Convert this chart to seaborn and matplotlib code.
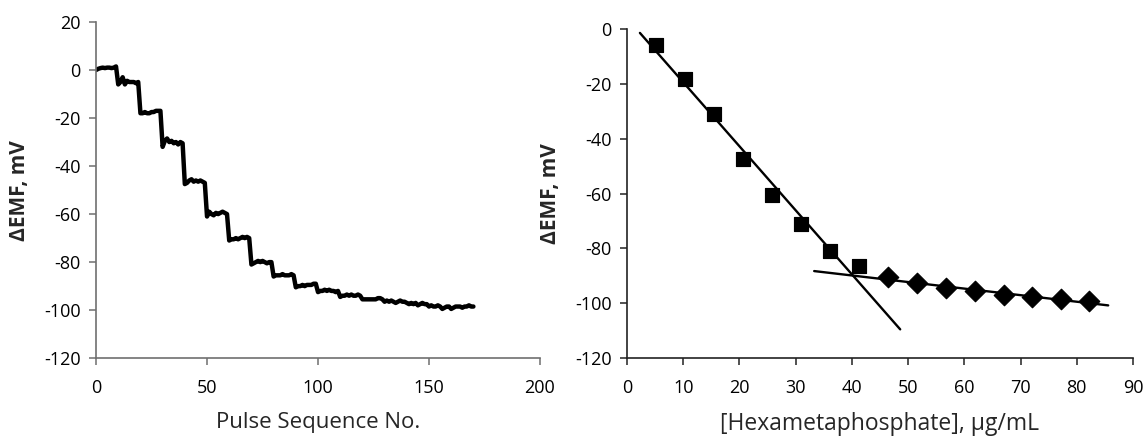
import numpy as np
import pandas as pd
import matplotlib
matplotlib.use("Agg")
import matplotlib.pyplot as plt
import seaborn as sns

# ---- Left panel: EMF response over the pulse sequence (10 readings per pulse) ----
emf_trace = [
    0, 0.5, 0.8, 1, 0.8, 1, 1, 0.8, 1, 1.5,
    -6, -5, -3, -6, -4.5, -5, -5, -5, -5.5, -5,
    -18, -18, -17.5, -18, -18, -17.5, -17.5, -17, -17, -17,
    -32, -29.5, -28.5, -30, -29.5, -30.5, -30, -31, -30, -30.5,
    -47.5, -47, -46, -45.5, -46.5, -46, -46.5, -46, -46.5, -47,
    -61, -59, -60, -60.5, -59.5, -60, -59.5, -59, -59.5, -60,
    -71, -70.5, -70.5, -70, -70.5, -70, -69.5, -70, -69.5, -70,
    -81, -80.5, -80, -79.5, -80, -79.5, -80, -80.5, -80, -80,
    -86, -85.5, -85.5, -85.5, -85, -85.5, -85.5, -85.5, -85, -85.5,
    -90.5, -90, -90, -89.5, -90, -89.5, -89.5, -89.5, -89, -89,
    -92.5, -92, -92, -91.5, -92, -91.5, -92, -92, -92.5, -92,
    -94.5, -94, -94, -93.5, -94, -93.5, -94, -94, -93.5, -94,
    -95.5, -95.5, -95.5, -95.5, -95.5, -95.5, -95.5, -95, -95, -95.5,
    -96.5, -96, -96.5, -96, -96.5, -97, -96.5, -96, -96.5, -96.5,
    -97, -97.5, -97, -97.5, -97, -98, -97.5, -97, -97.5, -97.5,
    -98.5, -98, -98.5, -98.5, -98, -98.5, -99.5, -99, -98.5, -98.5,
    -99.5, -99, -98.5, -98.5, -98.5, -99, -98.5, -98.5, -98, -98.5, -98.5,
]
pulse_no = list(range(len(emf_trace)))

# ---- Right panel: calibration points ----
conc_low = [5.2, 10.3, 15.5, 20.6, 25.8, 30.9, 36.1, 41.2]
emf_low = [-6.0, -18.3, -31.1, -47.3, -60.4, -71.1, -81.0, -86.4]
conc_high = [46.4, 51.6, 56.8, 61.9, 67.0, 72.1, 77.2, 82.2]
emf_high = [-90.5, -92.7, -94.4, -95.4, -96.8, -97.8, -98.6, -99.3]

# x-extent of the two regression lines
fit_low_span = (2.3, 48.6)
fit_high_span = (33.3, 85.6)

sns.set_theme(style="ticks")
plt.rcParams["font.family"] = ["Open Sans", "DejaVu Sans"]
plt.rcParams["axes.unicode_minus"] = False

fig = plt.figure(figsize=(11.46, 4.4), dpi=100)
ax1 = fig.add_axes([0.0838, 0.186, 0.3874, 0.764])
ax2 = fig.add_axes([0.5471, 0.186, 0.4415, 0.748])

df_trace = pd.DataFrame({"pulse": pulse_no, "emf": emf_trace})
sns.lineplot(data=df_trace, x="pulse", y="emf", ax=ax1, color="black",
             linewidth=3.2, solid_joinstyle="round", solid_capstyle="round")
ax1.set_xlim(0, 200)
ax1.set_ylim(-120, 20)
ax1.set_xticks(np.arange(0, 201, 50))
ax1.set_yticks(np.arange(-120, 21, 20))

# least-squares lines for the steep and the flat regime
low_fit = np.polyfit(conc_low, emf_low, 1)
high_fit = np.polyfit(conc_high, emf_high, 1)
xl = np.array(fit_low_span)
xh = np.array(fit_high_span)
sns.lineplot(x=xl, y=np.polyval(low_fit, xl), ax=ax2, color="black", linewidth=1.7)
sns.lineplot(x=xh, y=np.polyval(high_fit, xh), ax=ax2, color="black", linewidth=1.7)

sns.scatterplot(x=conc_low, y=emf_low, ax=ax2, marker="s", s=110,
                color="black", edgecolor="black", zorder=3)
sns.scatterplot(x=conc_high, y=emf_high, ax=ax2, marker="D", s=110,
                color="black", edgecolor="black", zorder=3)
ax2.set_xlim(0, 90)
ax2.set_ylim(-120, 0)
ax2.set_xticks(np.arange(0, 91, 10))
ax2.set_yticks(np.arange(-120, 1, 20))

for ax, spine_col in ((ax1, "#6f6f6f"), (ax2, "#222222")):
    sns.despine(ax=ax)
    for s in ("left", "bottom"):
        ax.spines[s].set_color(spine_col)
        ax.spines[s].set_linewidth(1.2)
    ax.tick_params(axis="both", direction="out", length=5, width=1.1,
                   color=spine_col, labelsize=13, labelcolor="black", pad=6)
    ax.tick_params(axis="x", pad=10)
    ax.set_ylabel("ΔEMF, mV", fontsize=15, fontweight="bold", labelpad=10)

ax1.set_xlabel("Pulse Sequence No.", fontsize=16, labelpad=11)
ax2.set_xlabel("[Hexametaphosphate], µg/mL", fontsize=16.5, labelpad=11)

fig.savefig("out.png", dpi=100)
